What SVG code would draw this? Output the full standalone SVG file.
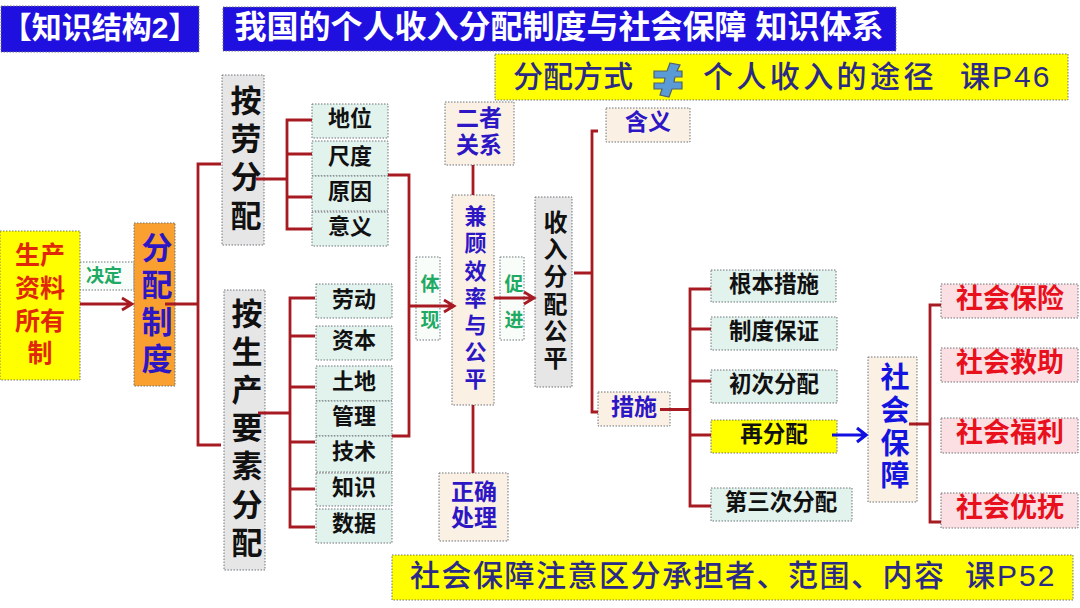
<svg xmlns="http://www.w3.org/2000/svg" width="1080" height="608" viewBox="0 0 1080 608">
<style>
text{font-family:"Liberation Sans","Noto Sans CJK SC",sans-serif;font-weight:700;text-anchor:middle;dominant-baseline:central}
.v{writing-mode:vertical-rl;text-orientation:upright}
.b{stroke:#6f7478;stroke-width:1;stroke-dasharray:1.5 1.5}
.blue{fill:#2010e0}.yel{fill:#ffff00}.gray{fill:#e6e6e6}.teal{fill:#e2f3ee}.cream{fill:#fbf0e4}.pink{fill:#fbdfe3}.org{fill:#f9a030}.white{fill:#f8fdfa}
.tw{fill:#fff;font-size:32px}
.ty{fill:#2b2a86;font-size:30px;font-weight:500;text-anchor:start}
.tk{fill:#111;font-size:31px}
.tk2{fill:#111;font-size:22px}
.tk3{fill:#111;font-size:22.500px}
.tp{fill:#2d16c4;font-size:23px}
.tg{fill:#1faa63;font-size:19px}
.tr{fill:#e8101c;font-size:27px}
.c{fill:none;stroke:#a81a22;stroke-width:2.800}
.cb{fill:none;stroke:#1010e0;stroke-width:3.200}
</style>
<g id="node-title-left"><rect class="b blue" x="1" y="6" width="198" height="46"/><text class="tw" x="100" y="27" style="font-size:30px">【知识结构2】</text></g>
<g id="node-title-main"><rect class="b blue" x="223" y="7" width="673" height="44"/><text class="tw" x="559" y="27">我国的个人收入分配制度与社会保障 知识体系</text></g>
<g id="node-top-note"><rect class="b yel" x="495" y="54" width="573" height="46"/>
<text class="ty" x="513" y="76">分配方式</text>
<path d="M670 63 680 65 677 71 682 71 682 77 675 77 674 82 682 82 682 89 672 89 669 97 660 95 662 89 654 89 654 83 664 83 665 78 654 78 654 71 667 71Z" fill="#5b9bd5" stroke="#50606e" stroke-width="1.200"/>
<text class="ty" x="703" y="76" letter-spacing="3.400">个人收入的途径</text>
<text class="ty" x="960" y="76" letter-spacing="2">课P46</text></g>
<g id="node-means"><rect class="b cream" x="606" y="108" width="84" height="34"/><text class="tp" x="648" y="122">含义</text></g>
<g id="node-relation"><rect class="b cream" x="445" y="102" width="69" height="63"/><text class="tp"><tspan x="479" y="118">二者</tspan><tspan x="479" y="145">关系</tspan></text></g>
<g id="node-balance"><rect class="b cream" x="452" y="195" width="42" height="210"/><text class="tp v" x="473" y="300" style="font-size:22px" letter-spacing="5.200">兼顾效率与公平</text></g>
<g id="node-handle"><rect class="b cream" x="439" y="473" width="69" height="68"/><text class="tp"><tspan x="474" y="492">正确</tspan><tspan x="474" y="518">处理</tspan></text></g>
<g id="node-labor"><rect class="b gray" x="222" y="75" width="42" height="170"/><text class="tk v" x="243" y="161" letter-spacing="7.300">按劳分配</text></g>
<g id="node-factor"><rect class="b gray" x="224" y="290" width="41" height="280"/><text class="tk v" x="244" y="431" letter-spacing="7.200">按生产要素分配</text></g>
<g id="node-diwei"><rect class="b teal" x="312" y="104" width="76" height="34"/><text class="tk2" x="350" y="118">地位</text></g>
<g id="node-chidu"><rect class="b teal" x="312" y="141" width="76" height="35"/><text class="tk2" x="350" y="156">尺度</text></g>
<g id="node-yuanyin"><rect class="b teal" x="312" y="176" width="76" height="35"/><text class="tk2" x="350" y="191">原因</text></g>
<g id="node-yiyi"><rect class="b teal" x="312" y="212" width="76" height="34"/><text class="tk2" x="350" y="226">意义</text></g>
<g id="node-laodong"><rect class="b teal" x="316" y="284" width="76" height="34"/><text class="tk2" x="354" y="299">劳动</text></g>
<g id="node-ziben"><rect class="b teal" x="316" y="326" width="76" height="34"/><text class="tk2" x="354" y="340">资本</text></g>
<g id="node-tudi"><rect class="b teal" x="316" y="366" width="76" height="35"/><text class="tk2" x="354" y="381">土地</text></g>
<g id="node-guanli"><rect class="b teal" x="316" y="401" width="76" height="35"/><text class="tk2" x="354" y="416">管理</text></g>
<g id="node-jishu"><rect class="b teal" x="316" y="436" width="76" height="36"/><text class="tk2" x="354" y="451">技术</text></g>
<g id="node-zhishi"><rect class="b teal" x="316" y="473" width="76" height="33"/><text class="tk2" x="354" y="487">知识</text></g>
<g id="node-shuju"><rect class="b teal" x="316" y="509" width="76" height="34"/><text class="tk2" x="354" y="523">数据</text></g>
<g id="node-decide"><rect class="b white" x="74" y="262" width="60" height="28"/><text class="tg" x="104" y="276" style="font-size:18px">决定</text></g>
<g id="node-ownership"><rect class="b yel" x="0" y="231" width="80" height="149"/><text style="font-size:25px;fill:#e02808"><tspan x="40" y="255">生产</tspan><tspan x="40" y="288">资料</tspan><tspan x="40" y="321">所有</tspan><tspan x="40" y="353">制</tspan></text></g>
<g id="node-system"><rect class="b org" x="134" y="223" width="41" height="163"/><text class="tp v" x="154" y="306" style="font-size:31px" letter-spacing="6">分配制度</text></g>
<g id="node-embody"><rect class="b white" x="416" y="257" width="24" height="83"/><text class="tg v" x="428" y="310" letter-spacing="17">体现</text></g>
<g id="node-promote"><rect class="b white" x="500" y="257" width="24" height="83"/><text class="tg v" x="512" y="310" letter-spacing="17">促进</text></g>
<g id="node-fairness"><rect class="b gray" x="535" y="197" width="37" height="190"/><text class="v" x="553.500" y="291.500" style="font-size:24px;fill:#111" letter-spacing="3.200">收入分配公平</text></g>
<g id="node-measures"><rect class="b cream" x="598" y="392" width="72" height="34"/><text class="tp" x="634" y="407">措施</text></g>
<g id="node-m1"><rect class="b teal" x="711" y="270" width="125" height="32"/><text class="tk3" x="774" y="284">根本措施</text></g>
<g id="node-m2"><rect class="b teal" x="711" y="317" width="126" height="33"/><text class="tk3" x="774" y="331">制度保证</text></g>
<g id="node-m3"><rect class="b teal" x="711" y="370" width="126" height="33"/><text class="tk3" x="774" y="384">初次分配</text></g>
<g id="node-m4"><rect class="b yel" x="711" y="420" width="126" height="33"/><text class="tk3" x="774" y="434">再分配</text></g>
<g id="node-m5"><rect class="b teal" x="711" y="488" width="141" height="33"/><text class="tk3" x="781" y="502">第三次分配</text></g>
<g id="node-security"><rect class="b cream" x="868" y="357" width="49" height="145"/><text class="v" x="892" y="428" style="font-size:29px;fill:#1414e0" letter-spacing="3.700">社会保障</text></g>
<g id="node-s1"><rect class="b pink" x="941" y="284" width="137" height="34"/><text class="tr" x="1010" y="299">社会保险</text></g>
<g id="node-s2"><rect class="b pink" x="941" y="348" width="137" height="34"/><text class="tr" x="1010" y="363">社会救助</text></g>
<g id="node-s3"><rect class="b pink" x="941" y="418" width="137" height="35"/><text class="tr" x="1010" y="433">社会福利</text></g>
<g id="node-s4"><rect class="b pink" x="941" y="493" width="137" height="35"/><text class="tr" x="1010" y="508">社会优抚</text></g>
<g id="node-bottom-note"><rect class="b yel" x="392" y="555" width="681" height="45"/>
<text class="ty" x="410" y="575" letter-spacing="1.500">社会保障注意区分承担者、范围、内容</text>
<text class="ty" x="965" y="575" letter-spacing="2">课P52</text></g>
<g id="connectors">
<path class="c" d="M80 304H132M122 298 132 304 122 310"/>
<path class="c" d="M165 304H198M221 164H198V445H221"/>
<path class="c" d="M256 179H287M312 120H287V229H312M287 154H312M287 197H312"/>
<path class="c" d="M258 413H290M315 298H290V527H315M290 336H315M290 387H315M290 442H315M290 489H315"/>
<path class="c" d="M388 175H409V436H392"/>
<path class="c" d="M409 306H454M444 300 454 306 444 312"/>
<path class="c" d="M494 298H534M524 292 534 298 524 304"/>
<path class="c" d="M473 165V195M473 405V473"/>
<path class="c" d="M574 273H592M598 131H592V412H598"/>
<path class="c" d="M660 409.500H690M711 289H690V506H711M690 329H711M690 381H711M690 435H711"/>
<path class="cb" d="M832 435H866M857 428 866 435 857 442"/>
<path class="c" d="M909 424H930M941 305H930V522H941"/>
</g>
</svg>
